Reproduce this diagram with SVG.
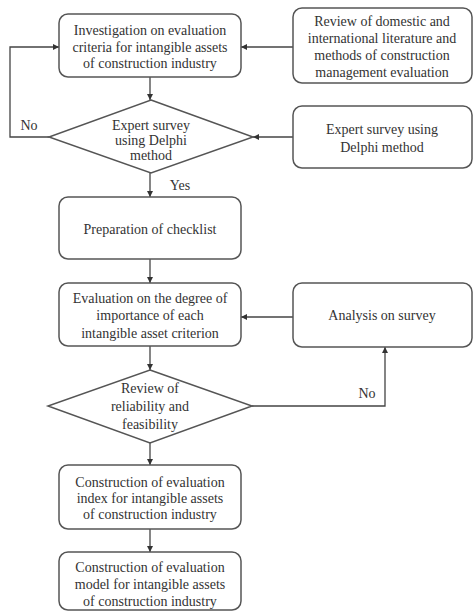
<svg xmlns="http://www.w3.org/2000/svg" width="473" height="612" viewBox="0 0 473 612">
<defs>
<style>
.box{fill:#fff;stroke:#555;stroke-width:1.5}
.t{font-family:"Liberation Serif","Times New Roman",serif;font-size:14px;fill:#333;text-anchor:middle}
.c{fill:none;stroke:#444;stroke-width:1.3}
</style>
<marker id="ah" viewBox="0 0 10 10" refX="10" refY="5" markerWidth="6" markerHeight="6" orient="auto" markerUnits="userSpaceOnUse">
<path d="M0,0 L10,5 L0,10 z" fill="#333"/>
</marker>
</defs>
<rect width="473" height="612" fill="#fff"/>
<g id="connectors">
<path class="c" d="M150,77 V100" marker-end="url(#ah)"/>
<path class="c" d="M293,47 H241" marker-end="url(#ah)"/>
<path class="c" d="M293,137 H253" marker-end="url(#ah)"/>
<path class="c" d="M49,137 H10 V47 H59" marker-end="url(#ah)"/>
<path class="c" d="M150,173 V197" marker-end="url(#ah)"/>
<path class="c" d="M150,259 V283" marker-end="url(#ah)"/>
<path class="c" d="M293,317 H241" marker-end="url(#ah)"/>
<path class="c" d="M150,346 V370" marker-end="url(#ah)"/>
<path class="c" d="M252,406 H385 V347" marker-end="url(#ah)"/>
<path class="c" d="M150,443 V465" marker-end="url(#ah)"/>
<path class="c" d="M150,529 V552" marker-end="url(#ah)"/>
<text class="t" x="29" y="130">No</text>
<text class="t" x="180" y="190">Yes</text>
<text class="t" x="367" y="398">No</text>
</g>
<g id="n1">
<rect class="box" x="59" y="14" width="182" height="63" rx="9"/>
<text class="t" x="150" y="35">Investigation on evaluation</text>
<text class="t" x="150" y="52">criteria for intangible assets</text>
<text class="t" x="150" y="68">of construction industry</text>
</g>
<g id="n2">
<rect class="box" x="293" y="8" width="179" height="75" rx="9"/>
<text class="t" x="382" y="26">Review of domestic and</text>
<text class="t" x="382" y="43">international literature and</text>
<text class="t" x="382" y="60">methods of construction</text>
<text class="t" x="382" y="77">management evaluation</text>
</g>
<g id="n3">
<polygon class="box" points="151,100 253,137 151,173 49,137"/>
<text class="t" x="151" y="130">Expert survey</text>
<text class="t" x="151" y="145">using Delphi</text>
<text class="t" x="151" y="160">method</text>
</g>
<g id="n4">
<rect class="box" x="293" y="106" width="179" height="62" rx="9"/>
<text class="t" x="382" y="134">Expert survey using</text>
<text class="t" x="382" y="152">Delphi method</text>
</g>
<g id="n5">
<rect class="box" x="59" y="197" width="182" height="62" rx="9"/>
<text class="t" x="150" y="234">Preparation of checklist</text>
</g>
<g id="n6">
<rect class="box" x="59" y="283" width="182" height="63" rx="9"/>
<text class="t" x="150" y="303">Evaluation on the degree of</text>
<text class="t" x="150" y="320">importance of each</text>
<text class="t" x="150" y="338">intangible asset criterion</text>
</g>
<g id="n7">
<rect class="box" x="293" y="283" width="179" height="64" rx="9"/>
<text class="t" x="382" y="320">Analysis on survey</text>
</g>
<g id="n8">
<polygon class="box" points="150,370 252,406 150,443 48,406"/>
<text class="t" x="150" y="393">Review of</text>
<text class="t" x="150" y="411">reliability and</text>
<text class="t" x="150" y="429">feasibility</text>
</g>
<g id="n9">
<rect class="box" x="59" y="465" width="182" height="64" rx="9"/>
<text class="t" x="150" y="487">Construction of evaluation</text>
<text class="t" x="150" y="503">index for intangible assets</text>
<text class="t" x="150" y="519">of construction industry</text>
</g>
<g id="n10">
<rect class="box" x="59" y="552" width="182" height="58" rx="9"/>
<text class="t" x="150" y="572">Construction of evaluation</text>
<text class="t" x="150" y="589">model for intangible assets</text>
<text class="t" x="150" y="606">of construction industry</text>
</g>
</svg>
